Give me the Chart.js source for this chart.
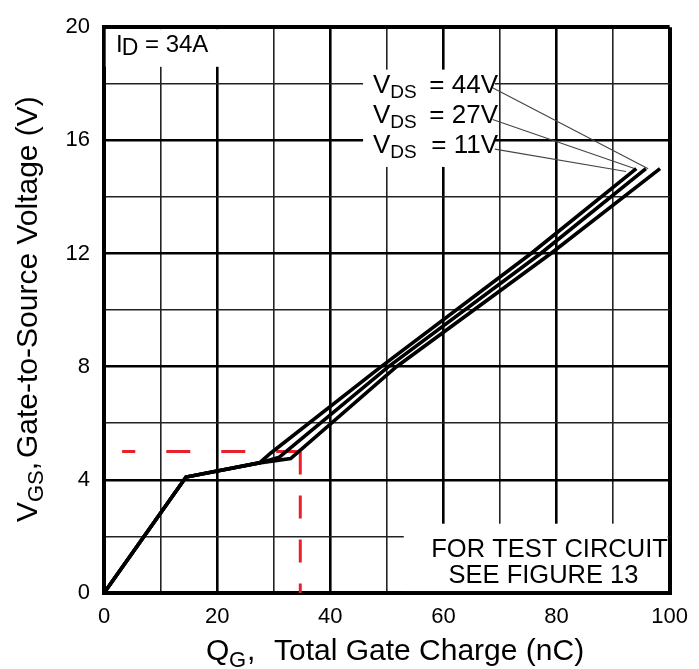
<!DOCTYPE html>
<html>
<head>
<meta charset="utf-8">
<script src="https://cdn.jsdelivr.net/npm/chart.js@4.4.0/dist/chart.umd.min.js"></script>
<style>
  html, body { margin: 0; padding: 0; background: #fff; }
  #wrap { width: 699px; height: 669px; }
</style>
</head>
<body>
<div id="wrap"><canvas id="chart" width="699" height="669"></canvas></div>
<script>
const xTickLabels = [0, 20, 40, 60, 80, 100];
const yTickLabels = [0, 4, 8, 12, 16, 20];

// gate charge curves, Qg (nC) vs Vgs (V)
const qg11V = [0, 14.5, 27.5, 29.5, 49, 75.5, 94.1];
const vgs11V = [0, 4.1, 4.6, 4.95, 8, 12, 15];
const qg27V = [0, 14.5, 27.5, 31, 50.3, 77.2, 95.8];
const vgs27V = [0, 4.1, 4.6, 4.8, 8, 12, 15];
const qg44V = [0, 14.5, 27.5, 33, 51.7, 79, 98.3];
const vgs44V = [0, 4.1, 4.6, 4.75, 8, 12, 15];

// red dashed reference at Vgs = 5 V
const refHQg = [34.7, 3.2];
const refHVgs = [5, 5];
const refVQg = [34.7, 34.7];
const refVVgs = [5, 0];

// leader lines from labels to curve tops (44V, 27V, 11V)
const vdsNames = ['44V', '27V', '11V'];
const leaderFromQg = [68.7, 68.7, 69.1];
const leaderFromVgs = [17.86, 16.74, 15.69];
const leaderToQg = [96.2, 93.9, 92.3];
const leaderToVgs = [15.0, 15.0, 14.9];

const FONT = '"Liberation Sans", Arial, Helvetica, sans-serif';

function pts(xs, ys) {
    return xs.map((v, i) => ({ x: v, y: ys[i] }));
}

function curve(xs, ys) {
    return {
        data: pts(xs, ys),
        showLine: true,
        borderColor: '#000',
        borderWidth: 3.6,
        pointRadius: 0,
        tension: 0
    };
}

const datasets = [
    curve(qg11V, vgs11V),
    curve(qg27V, vgs27V),
    curve(qg44V, vgs44V)
];

leaderFromQg.forEach((q, i) => {
    datasets.push({
        data: [{ x: q, y: leaderFromVgs[i] }, { x: leaderToQg[i], y: leaderToVgs[i] }],
        showLine: true,
        borderColor: '#444',
        borderWidth: 1.1,
        pointRadius: 0
    });
});

datasets.push({
    data: pts(refHQg, refHVgs),
    showLine: true,
    borderColor: '#e8202b',
    borderWidth: 3,
    borderDash: [24, 31],
    pointRadius: 0
});
datasets.push({
    data: pts(refVQg, refVVgs),
    showLine: true,
    borderColor: '#e8202b',
    borderWidth: 3,
    borderDash: [23, 21],
    pointRadius: 0
});

function gridWidth(major, edgeA, edgeB) {
    return ctx => {
        const v = ctx.tick ? ctx.tick.value : 0;
        if (v === edgeA || v === edgeB) return 4;
        return v % major === 0 ? 2.6 : 1.6;
    };
}
function gridColor(major) {
    return ctx => {
        const v = ctx.tick ? ctx.tick.value : 0;
        return v % major === 0 ? '#000' : '#222';
    };
}

const annotate = {
    id: 'annotate',
    beforeDatasetsDraw(chart) {
        const { ctx, scales: { x, y } } = chart;
        ctx.save();
        ctx.fillStyle = '#fff';
        const box = (x0, y0, x1, y1) => {
            const l = x.getPixelForValue(x0), r = x.getPixelForValue(x1);
            const t = y.getPixelForValue(y1), b = y.getPixelForValue(y0);
            ctx.fillRect(l, t, r - l, b - t);
        };
        box(0.3, 18.6, 22, 19.93);
        box(45.8, 15.06, 69.1, 18.5);
        box(53, 0.07, 99.65, 2.45);
        ctx.restore();
    },
    afterDraw(chart) {
        const { ctx } = chart;
        ctx.save();
        ctx.fillStyle = '#000';
        ctx.textBaseline = 'alphabetic';

        // I_D = 34A
        ctx.textAlign = 'left';
        ctx.font = '24px ' + FONT;
        ctx.fillText('I', 116, 52);
        let w = ctx.measureText('I').width;
        ctx.font = '23px ' + FONT;
        ctx.fillText('D', 116 + w - 1, 55);
        w += ctx.measureText('D').width - 1;
        ctx.font = '24px ' + FONT;
        ctx.fillText(' = 34A', 116 + w, 52);

        // V_DS labels
        vdsNames.forEach((name, i) => {
            const b = 93 + 30 * i;
            ctx.textAlign = 'left';
            ctx.font = '26px ' + FONT;
            ctx.fillText('V', 373, b);
            const vw = ctx.measureText('V').width;
            ctx.font = '19px ' + FONT;
            ctx.fillText('DS', 373 + vw, b + 5);
            ctx.textAlign = 'right';
            ctx.font = '26px ' + FONT;
            ctx.fillText('= ' + name, 498, b);
        });

        // test circuit note
        ctx.textAlign = 'center';
        ctx.font = '25.5px ' + FONT;
        ctx.fillText('FOR TEST CIRCUIT', 549.5, 557);
        ctx.fillText('SEE FIGURE 13', 543.5, 583);

        // x axis title
        ctx.textAlign = 'left';
        ctx.font = '30px ' + FONT;
        ctx.fillText('Q', 206, 660);
        ctx.font = '22px ' + FONT;
        ctx.fillText('G', 229, 667);
        ctx.font = '30px ' + FONT;
        ctx.fillText(',', 247, 660);
        ctx.fillText('Total Gate Charge (nC)', 274, 660);

        // y axis title
        ctx.translate(37, 522);
        ctx.rotate(-Math.PI / 2);
        ctx.font = '30px ' + FONT;
        ctx.fillText('V', 0, 0);
        let p = ctx.measureText('V').width;
        ctx.font = '22px ' + FONT;
        ctx.fillText('GS', p, 6);
        p += ctx.measureText('GS').width;
        ctx.font = '30px ' + FONT;
        ctx.fillText(',', p, 0);
        ctx.fillText('Gate-to-Source Voltage (V)', 64, 0);
        ctx.restore();
    }
};

new Chart(document.getElementById('chart').getContext('2d'), {
    type: 'scatter',
    data: { datasets: datasets },
    options: {
        responsive: false,
        animation: false,
        events: [],
        layout: { padding: { top: 22, right: 22, left: 0, bottom: 0 } },
        plugins: {
            legend: { display: false },
            tooltip: { enabled: false }
        },
        scales: {
            x: {
                type: 'linear',
                min: 0,
                max: 100,
                afterFit: s => { s.height = 76; },
                ticks: {
                    stepSize: 10,
                    padding: 11,
                    color: '#000',
                    font: { size: 22, family: FONT },
                    maxRotation: 0,
                    autoSkip: false,
                    callback: v => xTickLabels.includes(v) ? String(v) : ''
                },
                grid: {
                    drawTicks: false,
                    color: gridColor(20),
                    lineWidth: gridWidth(20, 0, 100)
                },
                border: { display: true, color: '#000', width: 4 }
            },
            y: {
                type: 'linear',
                min: 0,
                max: 20,
                afterFit: s => { s.width = 104; },
                ticks: {
                    stepSize: 2,
                    padding: 14,
                    color: '#000',
                    font: { size: 22, family: FONT },
                    autoSkip: false,
                    callback: v => yTickLabels.includes(v) ? String(v) : ''
                },
                grid: {
                    drawTicks: false,
                    color: gridColor(4),
                    lineWidth: gridWidth(4, 0, 20)
                },
                border: { display: true, color: '#000', width: 4 }
            }
        }
    },
    plugins: [annotate]
});
</script>
</body>
</html>
